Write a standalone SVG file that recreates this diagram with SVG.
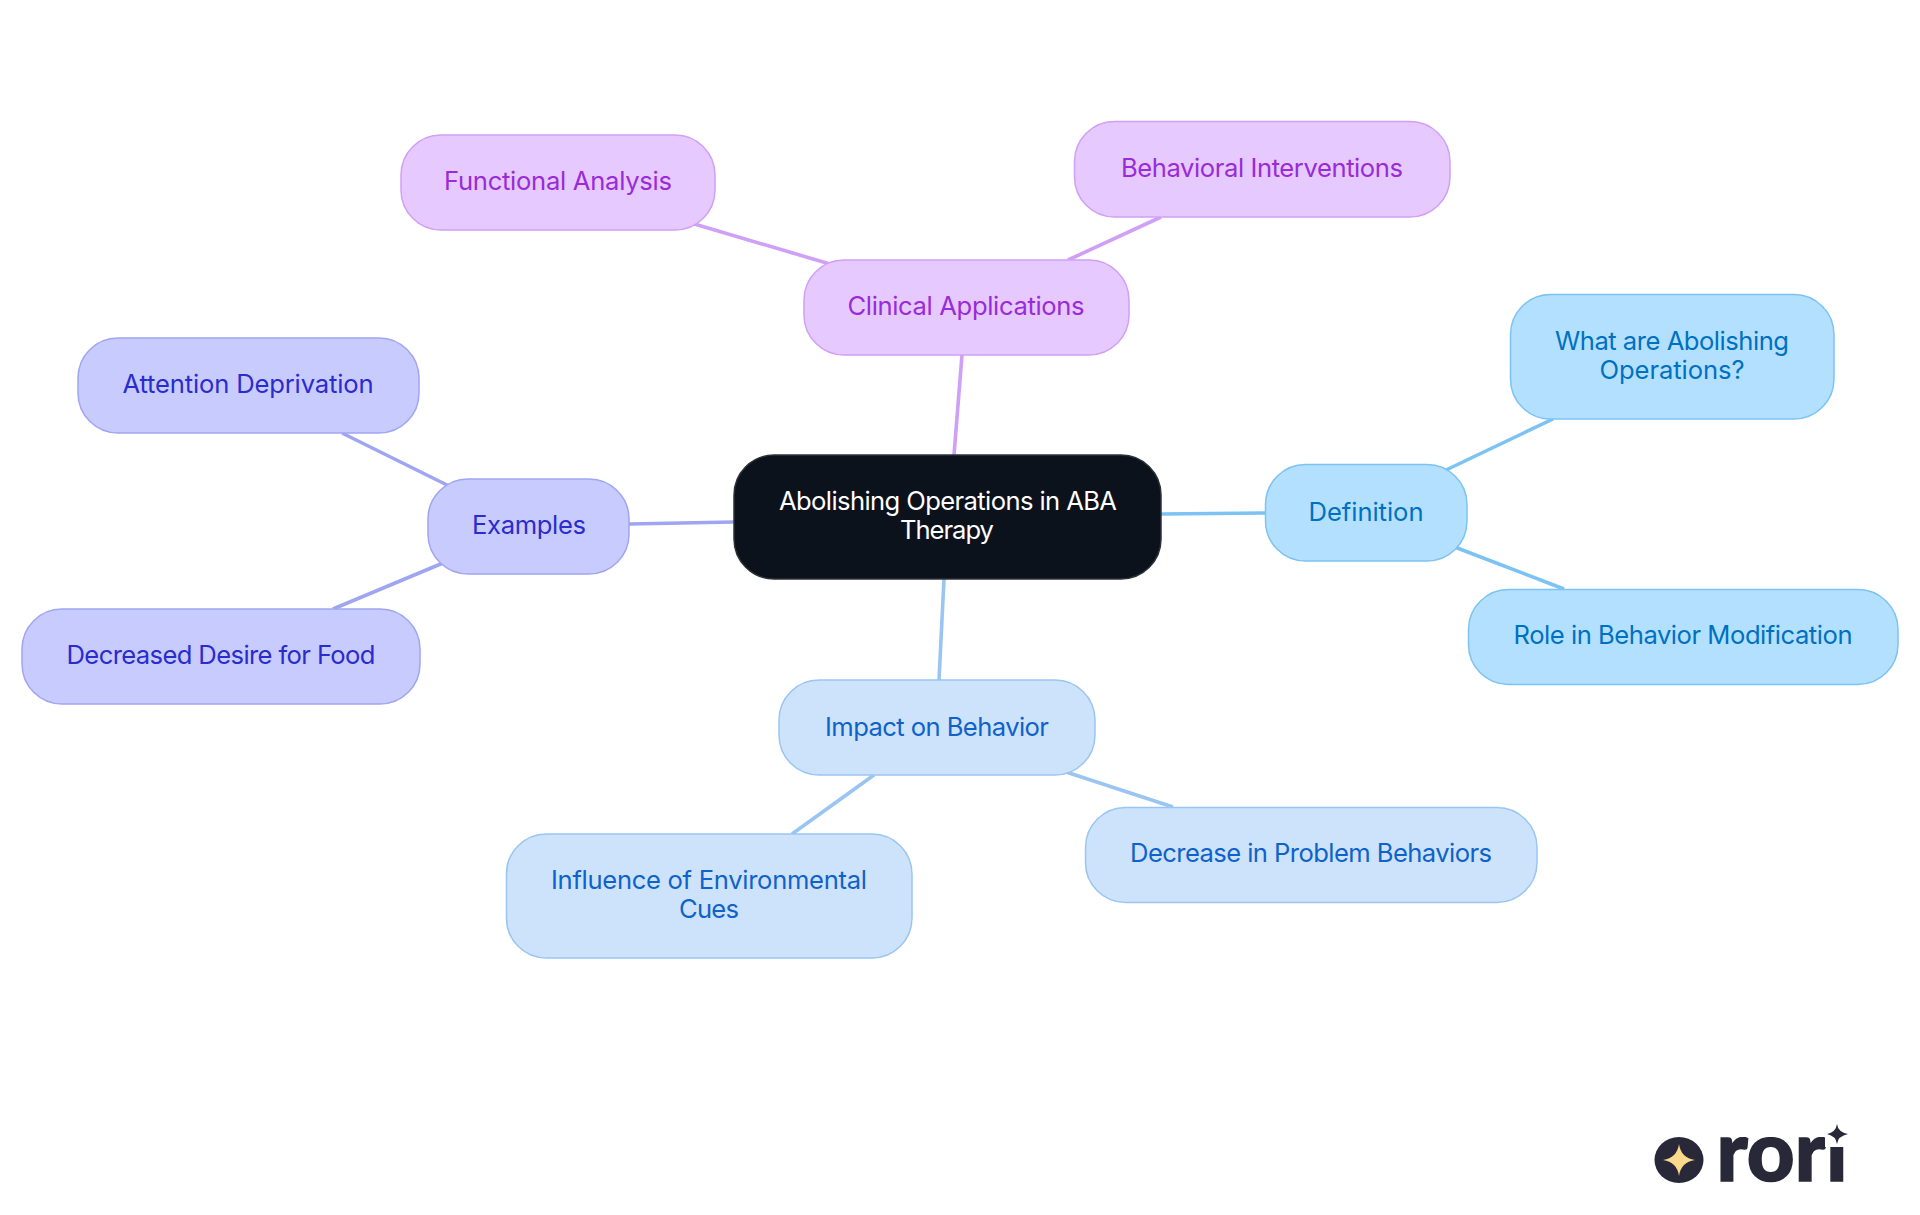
<svg xmlns="http://www.w3.org/2000/svg" width="1920" height="1215" viewBox="0 0 1920 1215">
<style>
text{font-family:"Inter","Liberation Sans",sans-serif;font-size:25.6px;text-anchor:middle}
.edge{fill:none;stroke-width:3.6}
.n{stroke-width:1.5}
.r{fill:#0c121b;stroke:#2c3138}.rt{fill:#fff;font-weight:400}
.s{fill:#b3e0ff;stroke:#7cc2f3}.st{fill:#0071c2}.se{stroke:#7cc2f3}
.l{fill:#cde3fc;stroke:#9ac5f2}.lt{fill:#0f62c9}.le{stroke:#9ac5f2}
.i{fill:#c8cbfd;stroke:#a0a5f2}.it{fill:#2a2cce}.ie{stroke:#a0a5f2}
.p{fill:#e6c9ff;stroke:#cfa0f5}.pt{fill:#9a2bd8}.pe{stroke:#cfa0f5}
</style>
<defs><clipPath id="logoClip"><rect x="1700" y="1137" width="125" height="50"/><rect x="1825" y="1147" width="45" height="40"/></clipPath></defs>
<rect width="1920" height="1215" fill="#fff"/>
<g id="connectors">
<path class="edge pe" d="M962 355L954 455"/>
<path class="edge pe" d="M691 223L830 264"/>
<path class="edge pe" d="M1068 260L1161 217"/>
<path class="edge se" d="M1161 514L1265 513"/>
<path class="edge se" d="M1446 470L1553 419"/>
<path class="edge se" d="M1452 546L1564 589"/>
<path class="edge le" d="M944 579L939 680"/>
<path class="edge le" d="M1063 771L1173 807"/>
<path class="edge le" d="M874 775L792 834"/>
<path class="edge ie" d="M734 522L629 524"/>
<path class="edge ie" d="M449 486L342 433"/>
<path class="edge ie" d="M443 563L333 609"/>
</g>
<g id="root"><rect class="n r" x="734" y="455" width="427" height="124" rx="40"/><text class="rt" x="948" y="510" textLength="338">Abolishing Operations in ABA</text><text class="rt" x="947" y="538.5" textLength="94">Therapy</text></g>
<g id="definition"><rect class="n s" x="1265.5" y="464.5" width="201.5" height="96.5" rx="40"/><text class="st" x="1366" y="520.5" textLength="115">Definition</text></g>
<g id="what"><rect class="n s" x="1510.5" y="294.5" width="323.5" height="124.5" rx="40"/><text class="st" x="1672" y="349.5" textLength="234">What are Abolishing</text><text class="st" x="1672" y="378.5" textLength="145">Operations?</text></g>
<g id="role"><rect class="n s" x="1468.5" y="589.5" width="429.5" height="95" rx="40"/><text class="st" x="1683" y="644" textLength="339">Role in Behavior Modification</text></g>
<g id="impact"><rect class="n l" x="779" y="680" width="316" height="95" rx="40"/><text class="lt" x="937" y="735.5" textLength="224">Impact on Behavior</text></g>
<g id="decrease"><rect class="n l" x="1085.5" y="807.5" width="451.5" height="95" rx="40"/><text class="lt" x="1311" y="862" textLength="362">Decrease in Problem Behaviors</text></g>
<g id="influence"><rect class="n l" x="506.5" y="834" width="405.5" height="124" rx="40"/><text class="lt" x="709" y="889" textLength="316">Influence of Environmental</text><text class="lt" x="709" y="918" textLength="60">Cues</text></g>
<g id="clinical"><rect class="n p" x="804" y="260" width="325" height="95" rx="40"/><text class="pt" x="966" y="315" textLength="237">Clinical Applications</text></g>
<g id="functional"><rect class="n p" x="401" y="135" width="314" height="95" rx="40"/><text class="pt" x="558" y="190" textLength="228">Functional Analysis</text></g>
<g id="behavioral"><rect class="n p" x="1074.5" y="121.5" width="375.5" height="95.5" rx="40"/><text class="pt" x="1262" y="177" textLength="282">Behavioral Interventions</text></g>
<g id="attention"><rect class="n i" x="78" y="338" width="341" height="95" rx="40"/><text class="it" x="248" y="393" textLength="251">Attention Deprivation</text></g>
<g id="examples"><rect class="n i" x="428" y="479" width="201" height="95" rx="40"/><text class="it" x="529" y="534" textLength="114">Examples</text></g>
<g id="decreased"><rect class="n i" x="22" y="609" width="398" height="95" rx="40"/><text class="it" x="221" y="663.5" textLength="309">Decreased Desire for Food</text></g>
<g id="logo">
<ellipse cx="1679" cy="1160" rx="24.5" ry="23" fill="#292839"/>
<path d="M1679 1144Q1681 1158 1695 1160Q1681 1162 1679 1176Q1677 1162 1663 1160Q1677 1158 1679 1144Z" fill="#fbd98c"/>
<text x="1782" y="1181" clip-path="url(#logoClip)" textLength="131" lengthAdjust="spacingAndGlyphs" stroke="#292839" stroke-width="1.5" style="font-family:Lato,sans-serif;font-size:84px;font-weight:900" fill="#292839">rori</text>
<path d="M1837 1124Q1838 1132 1848 1134Q1838 1136 1837 1144Q1836 1136 1827 1134Q1836 1132 1837 1124Z" fill="#292839"/>
</g>
</svg>
